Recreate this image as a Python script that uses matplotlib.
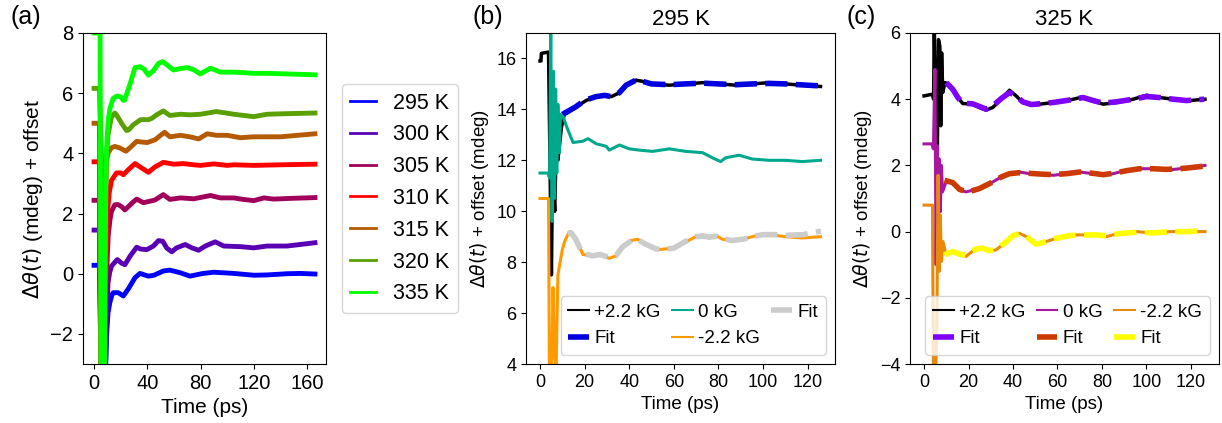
import numpy as np
import matplotlib
matplotlib.use('Agg')
import matplotlib.pyplot as plt

plt.rcParams['font.family'] = ['Liberation Sans', 'DejaVu Sans']

# ---------------- panel (a): temperature series
temps_a = ['295 K', '300 K', '305 K', '310 K', '315 K', '320 K', '335 K']
colors_a = ['#0000ff', '#5a00b4', '#a0005a', '#ff0000', '#b45a00', '#5aa000', '#00ff00']

t295 = [0, 4, 5.5, 8.3, 9.5, 10.5, 11.9, 13.5, 14.4, 18.2, 22, 25.8, 30.8, 34.5, 40.8, 45, 52, 57, 65, 72, 82,
        90, 105, 120, 130, 145, 155, 166]
y295 = [0.28, 0.28, -3.5, -3.5, -2.0, -1.3, -0.95, -0.7, -0.63, -0.63, -0.74, -0.5, -0.13, 0.01, -0.08, -0.05,
        0.09, 0.12, 0.03, -0.08, 0.01, 0.05, 0.01, -0.05, -0.04, 0.0, 0.01, -0.01]

t300 = [0, 4, 5.5, 8.5, 9.5, 10.5, 11.8, 13.1, 15.6, 17.5, 20.7, 23.2, 27, 32, 35, 39.6, 44.6, 48.4, 51.6, 54.7,
        58.4, 62, 68.5, 73.5, 78.6, 83.6, 91, 97.5, 110, 120, 130, 145, 166]
y300 = [1.45, 1.45, -3.5, -3.5, -1.5, -0.3, 0.05, 0.25, 0.38, 0.47, 0.35, 0.3, 0.58, 0.88, 0.82, 0.8, 0.92, 1.1,
        1.08, 0.85, 0.73, 0.86, 0.97, 0.86, 0.78, 0.92, 1.06, 0.92, 0.9, 0.86, 0.92, 0.92, 1.03]

t305 = [0, 4, 5.5, 7.5, 9, 10.6, 12, 13.1, 15.6, 18, 20.7, 23.2, 28.3, 32, 37.1, 41, 45.8, 52, 57, 65, 75, 87.4,
        95, 105, 112, 120, 127.7, 135, 145, 166]
y305 = [2.44, 2.44, -3.5, -3.5, -0.5, 1.25, 1.8, 2.07, 2.29, 2.3, 2.23, 2.12, 2.34, 2.48, 2.36, 2.4, 2.45, 2.63,
        2.47, 2.52, 2.49, 2.6, 2.52, 2.52, 2.47, 2.43, 2.52, 2.48, 2.5, 2.53]

t310 = [0, 4, 5, 7, 9, 10, 11.4, 13.1, 16.9, 20, 22, 25.8, 30.8, 34.5, 40.8, 45.8, 52, 60, 67, 75, 80, 90, 100,
        105, 120, 140, 166]
y310 = [3.72, 3.72, -3.5, -3.5, 0.5, 2.0, 2.69, 3.1, 3.35, 3.35, 3.29, 3.46, 3.66, 3.55, 3.37, 3.55, 3.7, 3.64,
        3.66, 3.62, 3.6, 3.65, 3.6, 3.62, 3.6, 3.62, 3.64]

t315 = [0, 4, 5, 7, 8.5, 9.4, 10.5, 12.9, 15.6, 19.4, 24, 28, 32, 35, 40, 45.8, 50, 53, 57, 65, 72, 78.6, 85, 92,
        100, 110, 120, 140, 166]
y315 = [5.0, 5.0, -3.5, -3.5, 1.5, 3.78, 4.0, 4.18, 4.23, 4.18, 4.07, 4.23, 4.4, 4.38, 4.36, 4.45, 4.6, 4.7,
        4.55, 4.6, 4.55, 4.48, 4.65, 4.6, 4.6, 4.52, 4.55, 4.55, 4.65]

t320 = [0, 4, 5.5, 6.8, 8.5, 10.5, 13, 15.6, 17, 20.7, 24.4, 26, 29.5, 35, 40.8, 43.3, 47, 52, 57, 65, 72, 80, 92,
        105, 120, 130, 145, 166]
y320 = [6.16, 6.16, 4.0, 2.3, 3.5, 4.6, 5.2, 5.34, 5.27, 5.0, 4.76, 4.78, 4.95, 5.12, 5.12, 5.16, 5.28, 5.41,
        5.26, 5.3, 5.28, 5.3, 5.39, 5.3, 5.22, 5.3, 5.32, 5.34]

t335 = [0, 4.5, 5.2, 7.8, 8.8, 9.5, 10.6, 12, 14.4, 16.9, 18.2, 20, 22, 23, 27, 30.8, 34.5, 37.5, 40.8, 44.6,
        48.4, 51.6, 55.9, 59.7, 65, 69.8, 74.8, 79.8, 87.4, 95, 105, 120, 130, 145, 166]
y335 = [8.0, 8.0, -3.5, -3.5, 3.0, 4.2, 5.1, 5.5, 5.83, 5.9, 5.9, 5.88, 5.76, 5.78, 6.3, 6.85, 6.88, 6.8, 6.6,
        6.75, 6.99, 7.05, 6.9, 6.77, 6.82, 6.85, 6.78, 6.64, 6.83, 6.7, 6.7, 6.66, 6.66, 6.64, 6.61]

times_a = [t295, t300, t305, t310, t315, t320, t335]
values_a = [y295, y300, y305, y310, y315, y320, y335]

# ---------------- panel (b): 295 K
tb_pos = [0, 0.4, 0.6, 3.8, 4.3, 5.1, 5.6, 6.6, 7.2, 8.0, 9.6, 11.1, 12, 16.2, 20.7, 25.2, 28.9, 31.9, 35.6,
          38.6, 43, 46, 50.5, 58, 65.4, 72.9, 80.3, 87.8, 95.2, 102.7, 110, 117.6, 125.8]
yb_pos = [15.9, 15.9, 16.2, 16.25, 13.0, 7.5, 11.5, 10.0, 12.5, 12.0, 13.3, 13.9, 13.85, 14.1, 14.35, 14.5,
          14.55, 14.5, 14.65, 14.95, 15.15, 15.1, 15.0, 14.95, 15.0, 15.05, 15.0, 14.95, 15.0, 15.05, 15.0,
          14.95, 14.9]
tb_pos_fit = [10, 12, 16, 20, 25, 29, 32, 35.5, 38.6, 43, 46, 50, 58, 65, 73, 80, 88, 95, 103, 110, 118, 126]
yb_pos_fit = [13.8, 13.9, 14.1, 14.35, 14.5, 14.55, 14.5, 14.65, 14.95, 15.15, 15.1, 15.0, 14.97, 15.0, 15.03,
              15.0, 14.97, 15.0, 15.02, 15.0, 14.96, 14.92]

tb_zero = [0, 3.5, 4.3, 4.8, 5.4, 6.0, 6.5, 7.0, 7.5, 8.0, 8.6, 9.2, 10.4, 12, 13.4, 14.8, 19.2, 21.5, 25.2,
           29.7, 31, 35.6, 40, 44.6, 50.5, 58, 65.4, 72.9, 77.3, 81, 83.3, 89.3, 95.2, 102.7, 110, 117.6, 125.8]
yb_zero = [11.5, 11.5, 11.3, 17.2, 9.6, 15.5, 10.5, 14.8, 11.5, 14.2, 12.3, 13.8, 13.7, 13.3, 13.0, 12.7,
           12.75, 12.85, 12.65, 12.55, 12.4, 12.6, 12.45, 12.4, 12.35, 12.45, 12.35, 12.3, 12.1, 11.95, 12.1,
           12.2, 12.05, 12.0, 12.0, 11.95, 12.0]

tb_neg = [0, 3.8, 4.2, 5.2, 5.8, 6.5, 7.2, 8.0, 9.0, 10, 11, 12, 13.3, 16.2, 19.2, 23.7, 26.7, 31.1, 34.1, 37.1,
          40.8, 43.8, 47.5, 52, 54.2, 59.5, 65.4, 69.9, 72.9, 75.9, 78.8, 81.8, 86.3, 90.8, 95.2, 99.7, 105.7,
          110, 117.6, 125.8]
yb_neg = [10.5, 10.5, 3.5, 3.5, 7.0, 4.5, 3.8, 7.5, 8.0, 8.5, 8.8, 9.0, 9.2, 8.9, 8.3, 8.25, 8.3, 8.15, 8.25,
          8.6, 8.85, 8.9, 8.7, 8.5, 8.5, 8.55, 8.8, 9.0, 9.05, 8.95, 9.05, 8.9, 8.85, 8.9, 9.0, 9.1, 9.05, 9.0,
          8.95, 9.0]
tb_neg_fit = [12.5, 14, 16, 19, 23.5, 27, 31, 34, 37, 41, 44, 47.5, 52, 55, 60, 65, 70, 73, 76, 79, 82, 86, 91,
              95, 100, 106, 110, 118, 126]
yb_neg_fit = [9.1, 9.15, 8.9, 8.35, 8.25, 8.3, 8.18, 8.25, 8.6, 8.85, 8.88, 8.7, 8.52, 8.5, 8.55, 8.8, 9.0,
              9.03, 8.98, 9.02, 8.92, 8.85, 8.9, 9.0, 9.08, 9.08, 9.05, 9.08, 9.22]

# ---------------- panel (c): 325 K
tc_pos = [0, 3.8, 4.3, 4.6, 5.3, 5.9, 6.5, 7.1, 7.5, 7.9, 8.4, 9.4, 10.7, 12.9, 15.2, 17.4, 21.9, 24.9, 27.9,
          30.9, 34.7, 38.4, 41.4, 44.4, 48.2, 52, 58, 64, 71.5, 76, 80.5, 86.5, 94, 100, 106, 112, 118, 126.3]
yc_pos = [4.1, 4.15, 4.0, 6.3, 3.0, 2.0, 5.8, 5.6, 3.2, 5.4, 4.2, 4.5, 4.47, 4.3, 4.05, 3.87, 3.85, 3.75, 3.67,
          3.75, 4.0, 4.27, 4.1, 3.9, 3.82, 3.85, 3.9, 3.95, 4.07, 3.95, 3.85, 3.9, 4.0, 4.12, 4.05, 4.0, 3.95, 4.0]
tc_pos_fit = [10, 12.9, 15.2, 17.4, 21.9, 24.9, 27.9, 30.9, 34.7, 38.4, 41.4, 44.4, 48.2, 52, 58, 64, 71.5, 76,
              80.5, 86.5, 94, 100, 106, 112, 118, 126]
yc_pos_fit = [4.5, 4.3, 4.05, 3.88, 3.86, 3.78, 3.7, 3.8, 4.02, 4.2, 4.1, 3.92, 3.84, 3.86, 3.9, 3.96, 4.05,
              3.96, 3.88, 3.92, 4.0, 4.08, 4.05, 4.0, 3.96, 4.0]

tc_zero = [0, 3.5, 4.2, 4.9, 5.4, 5.9, 6.3, 6.8, 7.3, 7.8, 8.3, 9.9, 12.9, 15.9, 18.9, 21.9, 24.9, 27.9, 30.9,
           34.7, 38.4, 42.9, 47.4, 52, 58, 64, 70, 76, 80.5, 85, 91, 97, 103, 109, 115, 121, 126.3]
yc_zero = [2.65, 2.65, 2.5, 4.9, -1.0, 2.6, 0.2, 2.2, 0.6, 2.0, 1.2, 1.5, 1.5, 1.25, 1.2, 1.25, 1.3, 1.4, 1.5,
           1.65, 1.75, 1.8, 1.75, 1.75, 1.7, 1.75, 1.8, 1.75, 1.7, 1.75, 1.85, 1.9, 1.9, 1.85, 1.9, 1.95, 2.0]
tc_zero_fit = [9.2, 12.9, 15.9, 18.9, 21.9, 24.9, 27.9, 30.9, 34.7, 38.4, 42.9, 47.4, 52, 58, 64, 70, 76, 80.5,
               85, 91, 97, 103, 109, 115, 121, 126]
yc_zero_fit = [1.55, 1.48, 1.28, 1.2, 1.24, 1.3, 1.4, 1.5, 1.65, 1.75, 1.78, 1.76, 1.74, 1.72, 1.75, 1.8, 1.76,
               1.72, 1.76, 1.84, 1.9, 1.9, 1.88, 1.9, 1.94, 1.98]

tc_neg = [0, 3.8, 4.2, 5.3, 5.8, 6.3, 6.8, 7.3, 7.8, 8.5, 9.9, 12.9, 15.9, 18.9, 23.4, 26.4, 29.4, 32.4, 36.2,
          40, 42.9, 45.9, 50.4, 55, 59.5, 65.5, 73, 77.5, 82, 88, 95.5, 103, 110.5, 118, 126.3]
yc_neg = [0.8, 0.8, -4.2, -4.2, -2.5, 1.7, -1.2, 0.5, -0.9, -0.3, -0.7, -0.6, -0.7, -0.75, -0.5, -0.5, -0.6,
          -0.55, -0.35, -0.1, -0.05, -0.15, -0.4, -0.3, -0.2, -0.1, -0.1, -0.1, -0.15, -0.05, 0.0, -0.05, 0.0,
          0.0, 0.0]
tc_neg_fit = [9.2, 12.9, 15.9, 18.9, 23.4, 26.4, 29.4, 32.4, 36.2, 40, 42.9, 45.9, 50.4, 55, 59.5, 65.5, 73,
              77.5, 82, 88, 95.5, 103, 110.5, 118, 126]
yc_neg_fit = [-0.7, -0.6, -0.68, -0.72, -0.52, -0.5, -0.58, -0.52, -0.35, -0.12, -0.06, -0.15, -0.38, -0.3,
              -0.2, -0.12, -0.1, -0.1, -0.13, -0.06, -0.02, -0.04, 0.0, 0.0, 0.02]

fit_dash = (0, (4, 1.5))

fig = plt.figure(figsize=(12.22, 4.23), dpi=100)
W, H = 1222., 423.
ax1 = fig.add_axes([83/W, 59/H, 243/W, 331/H])
ax2 = fig.add_axes([526/W, 59/H, 309/W, 331/H])
ax3 = fig.add_axes([910/W, 59/H, 309/W, 331/H])

# (a)
for tt, yy, c, lab in zip(times_a, values_a, colors_a, temps_a):
    ax1.plot(tt, yy, color=c, lw=3.5, label=lab)
ax1.set_ylim(-3, 8)
ax1.set_xticks([0, 40, 80, 120, 160])
ax1.set_xlabel('Time (ps)', fontsize=15)
ax1.set_ylabel(r'$\Delta\theta(t)$ (mdeg) + offset', fontsize=15)
ax1.tick_params(labelsize=14.5)
leg = ax1.legend(loc='center left', bbox_to_anchor=(1.02, 0.5), fontsize=15.5, handlelength=1.2,
                 handletextpad=0.8)
for l in leg.get_lines():
    l.set_linewidth(2)

# (b)
ax2.plot(tb_pos, yb_pos, color='k', lw=2.5, label='+2.2 kG')
ax2.plot(tb_pos_fit, yb_pos_fit, color='#0000e0', lw=4, ls=fit_dash, label='Fit')
ax2.plot(tb_zero, yb_zero, color='#00a88c', lw=2.2, label='0 kG')
ax2.plot(tb_neg, yb_neg, color='#ff9a00', lw=2.2, label='-2.2 kG')
ax2.plot(tb_neg_fit, yb_neg_fit, color='#cccccc', lw=4, ls=fit_dash, label='Fit')
ax2.set_ylim(4, 17)
ax2.set_title('295 K', fontsize=16)
ax2.set_xlabel('Time (ps)', fontsize=13.5)
ax2.set_ylabel(r'$\Delta\theta(t)$ + offset (mdeg)', fontsize=13.5)
ax2.tick_params(labelsize=13)
leg = ax2.legend(loc='lower right', ncol=3, fontsize=13.5, handlelength=1.1, handletextpad=0.3,
                 columnspacing=0.6)
for l in leg.get_lines():
    if l.get_linewidth() < 3:
        l.set_linewidth(1.5)

# (c)
ax3.plot(tc_pos, yc_pos, color='k', lw=2.5, label='+2.2 kG')
ax3.plot(tc_pos_fit, yc_pos_fit, color='#7f00ff', lw=4, ls=fit_dash, label='Fit')
ax3.plot(tc_zero, yc_zero, color='#a8189f', lw=2.2, label='0 kG')
ax3.plot(tc_zero_fit, yc_zero_fit, color='#cc3a00', lw=4, ls=fit_dash, label='Fit')
ax3.plot(tc_neg, yc_neg, color='#e8890c', lw=2.2, label='-2.2 kG')
ax3.plot(tc_neg_fit, yc_neg_fit, color='#ffff00', lw=4, ls=fit_dash, label='Fit')
ax3.set_ylim(-4, 6)
ax3.set_title('325 K', fontsize=16)
ax3.set_xlabel('Time (ps)', fontsize=13.5)
ax3.set_ylabel(r'$\Delta\theta(t)$ + offset (mdeg)', fontsize=13.5)
ax3.tick_params(labelsize=13)
leg = ax3.legend(loc='lower right', ncol=3, fontsize=13.5, handlelength=1.1, handletextpad=0.3,
                 columnspacing=0.6)
for l in leg.get_lines():
    if l.get_linewidth() < 3:
        l.set_linewidth(1.5)

for ax in (ax2, ax3):
    ax.set_xticks([0, 20, 40, 60, 80, 100, 120])

fig.text(10/W, 1 - 17/H, '(a)', fontsize=18, va='center')
fig.text(473/W, 1 - 17/H, '(b)', fontsize=18, va='center')
fig.text(847/W, 1 - 17/H, '(c)', fontsize=18, va='center')

fig.savefig('out.png', dpi=100)
